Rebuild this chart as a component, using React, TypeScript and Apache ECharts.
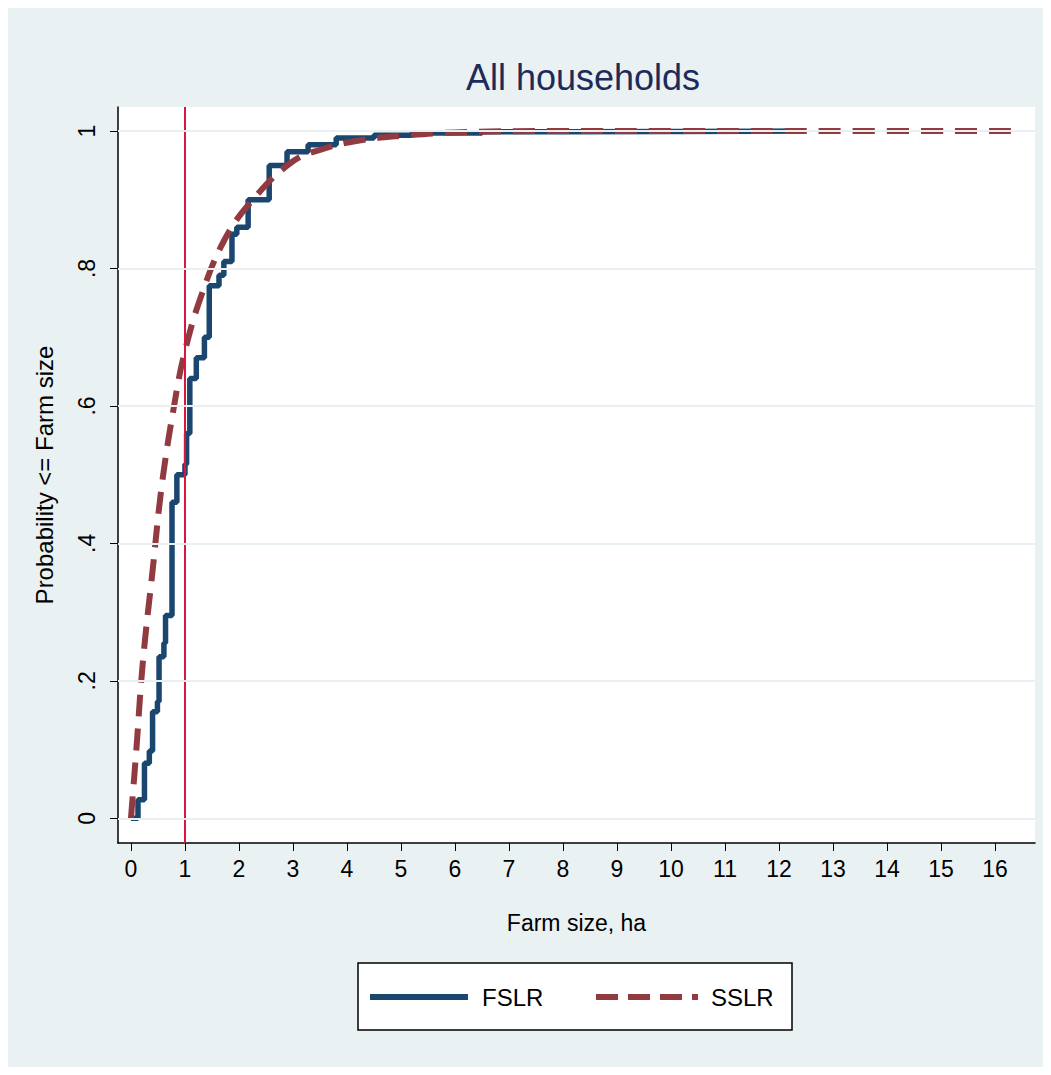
import { useEffect, useRef } from 'react';
import * as echarts from 'echarts';

const fslrX = [0, 0.13, 0.25, 0.34, 0.4, 0.49, 0.52, 0.61, 0.64, 0.76, 0.85, 1.0, 1.03, 1.09, 1.21, 1.36, 1.45, 1.63, 1.72, 1.87, 1.96, 2.17, 2.56, 2.89, 3.28, 3.8, 4.5, 5.2, 6.5, 8, 10, 12.5];
const fslrY = [0, 0.027, 0.08, 0.098, 0.155, 0.17, 0.235, 0.255, 0.295, 0.46, 0.5, 0.515, 0.56, 0.64, 0.67, 0.7, 0.775, 0.79, 0.81, 0.85, 0.86, 0.9, 0.95, 0.97, 0.98, 0.99, 0.994, 0.997, 0.999, 0.9995, 1, 1];
const sslrX = [0, 0.05, 0.1, 0.22, 0.4, 0.58, 0.82, 1.0, 1.3, 1.72, 2.2, 2.98, 3.6, 4.2, 5, 6, 8, 10, 13, 16.5];
const sslrY = [0, 0.05, 0.1, 0.227, 0.36, 0.49, 0.61, 0.68, 0.76, 0.84, 0.895, 0.955, 0.975, 0.986, 0.993, 0.998, 1, 1, 1, 1];
const xTicks = [0, 1, 2, 3, 4, 5, 6, 7, 8, 9, 10, 11, 12, 13, 14, 15, 16];
const yTicks = [0, 0.2, 0.4, 0.6, 0.8, 1];

const font = "'Liberation Sans', Arial, sans-serif";
const blue = '#1a4670';
const red = '#913a40';

export default function App() {
  const ref = useRef<HTMLDivElement>(null);

  useEffect(() => {
    if (!ref.current) return;
    const chart = echarts.init(ref.current, undefined, { renderer: 'svg' });
    chart.setOption({
      animation: false,
      backgroundColor: '#eaf1f3',
      textStyle: { fontFamily: font },
      title: {
        text: 'All households',
        left: 570,
        textAlign: 'center',
        top: 46,
        textStyle: { color: '#1c2b5a', fontSize: 36, fontWeight: 'normal', fontFamily: font },
      },
      grid: { left: 110, right: 8, top: 99, bottom: 224, show: true, backgroundColor: '#fff', borderWidth: 0 },
      xAxis: {
        type: 'value',
        min: -0.24,
        max: 16.74,
        name: 'Farm size, ha',
        nameLocation: 'middle',
        nameGap: 68,
        nameTextStyle: { color: '#000', fontSize: 23 },
        axisLine: { show: true, onZero: false, lineStyle: { color: '#000', width: 1.5 } },
        axisTick: { show: true, customValues: xTicks, length: 8, lineStyle: { color: '#000' } },
        axisLabel: { customValues: xTicks, color: '#000', fontSize: 23, margin: 14 },
        splitLine: { show: false },
      },
      yAxis: {
        type: 'value',
        min: -0.036,
        max: 1.035,
        name: 'Probability <= Farm size',
        nameLocation: 'middle',
        nameGap: 62,
        nameTextStyle: { color: '#000', fontSize: 24 },
        axisLine: { show: true, onZero: false, lineStyle: { color: '#000', width: 1.5 } },
        axisTick: { show: true, customValues: yTicks, length: 8, lineStyle: { color: '#000' } },
        axisLabel: {
          customValues: yTicks,
          color: '#000',
          fontSize: 23,
          rotate: 90,
          margin: 20,
          formatter: (v: number) => (v === 0 ? '0' : v === 1 ? '1' : v.toFixed(1).replace(/^0/, '')),
        },
        splitLine: { show: false },
      },
      graphic: [
        {
          type: 'rect',
          shape: { x: 350, y: 955, width: 434, height: 67 },
          style: { fill: '#fff', stroke: '#000', lineWidth: 1.5 },
        },
        {
          type: 'line',
          shape: { x1: 362, y1: 989, x2: 460, y2: 989 },
          style: { stroke: blue, lineWidth: 6 },
        },
        {
          type: 'text',
          x: 474,
          y: 989,
          style: { text: 'FSLR', fill: '#000', font: `24px ${font}`, verticalAlign: 'middle' },
        },
        {
          type: 'line',
          shape: { x1: 588, y1: 989, x2: 690, y2: 989 },
          style: { stroke: red, lineWidth: 6, lineDash: [22, 10] },
        },
        {
          type: 'text',
          x: 703,
          y: 989,
          style: { text: 'SSLR', fill: '#000', font: `24px ${font}`, verticalAlign: 'middle' },
        },
      ],
      series: [
        {
          type: 'line',
          name: 'SSLR',
          data: sslrX.map((x, i) => [x, sslrY[i]]),
          smooth: 0.4,
          symbol: 'none',
          lineStyle: { color: red, width: 6, type: [22, 12] },
          z: 3,
        },
        {
          type: 'line',
          name: 'FSLR',
          data: fslrX.map((x, i) => [x, fslrY[i]]),
          step: 'end',
          symbol: 'none',
          lineStyle: { color: blue, width: 5.5 },
          z: 2,
          markLine: {
            silent: true,
            symbol: 'none',
            label: { show: false },
            lineStyle: { color: '#d9163f', width: 2, type: 'solid' },
            data: [{ xAxis: 1 }],
          },
        },
        {
          type: 'line',
          data: [],
          markLine: {
            silent: true,
            symbol: 'none',
            label: { show: false },
            lineStyle: { color: '#e8f0f2', width: 2, type: 'solid' },
            data: yTicks.map((v) => ({ yAxis: v })),
          },
          z: 1,
        },
      ],
    });
    return () => chart.dispose();
  }, []);

  return <div ref={ref} style={{ width: 1035, height: 1059 }} />;
}
